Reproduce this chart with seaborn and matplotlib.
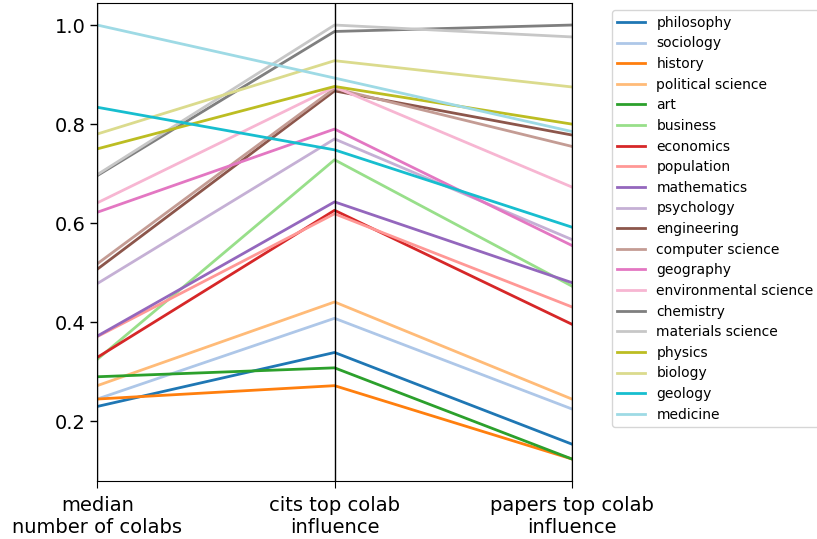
import matplotlib
matplotlib.use("Agg")
import matplotlib.pyplot as plt
import numpy as np
import pandas as pd
import seaborn as sns

# axes of the parallel plot
axes_names = ["median\nnumber of colabs", "cits top colab\ninfluence", "papers top colab\ninfluence"]

fields = ["philosophy", "sociology", "history", "political science", "art",
          "business", "economics", "population", "mathematics", "psychology",
          "engineering", "computer science", "geography", "environmental science",
          "chemistry", "materials science", "physics", "biology", "geology", "medicine"]

# normalised values
median_colabs = [0.230, 0.245, 0.245, 0.272, 0.290,
                 0.325, 0.329, 0.371, 0.372, 0.478,
                 0.507, 0.518, 0.622, 0.641,
                 0.696, 0.698, 0.750, 0.780, 0.834, 1.000]
cits_top = [0.339, 0.408, 0.272, 0.441, 0.308,
            0.728, 0.626, 0.619, 0.643, 0.770,
            0.867, 0.872, 0.790, 0.875,
            0.987, 1.000, 0.876, 0.928, 0.748, 0.893]
papers_top = [0.154, 0.225, 0.124, 0.245, 0.124,
              0.473, 0.396, 0.431, 0.480, 0.567,
              0.778, 0.755, 0.555, 0.673,
              1.000, 0.976, 0.800, 0.875, 0.592, 0.785]

rows = []
for i, f in enumerate(fields):
    for j, v in enumerate([median_colabs[i], cits_top[i], papers_top[i]]):
        rows.append({"field": f, "axis": j, "value": v})
df = pd.DataFrame(rows)

fig = plt.figure(figsize=(8.17, 5.39), dpi=100)
ax = fig.add_axes([0.119, 0.108, 0.581, 0.886])

palette = sns.color_palette("tab20", 20)
sns.lineplot(data=df, x="axis", y="value", hue="field", hue_order=fields,
             palette=palette, linewidth=2, ax=ax, legend=True)

for i in range(len(axes_names)):
    ax.axvline(i, color="black", linewidth=1)

ax.set_xticks(range(len(axes_names)))
ax.set_xticklabels(axes_names, fontsize=14)
ax.set_xlim(0, len(axes_names) - 1)
ax.set_ylim(0.080, 1.044)
ax.set_yticks([0.2, 0.4, 0.6, 0.8, 1.0])
ax.tick_params(axis="y", labelsize=14, length=4.8, width=1)
ax.tick_params(axis="x", length=4.8, pad=6.5)
ax.set_xlabel("")
ax.set_ylabel("")

ax.legend(loc="upper left", bbox_to_anchor=(0.749, 0.981), bbox_transform=fig.transFigure,
          borderaxespad=0, fontsize=10, labelspacing=0.477)

fig.savefig("out.png", dpi=100)
